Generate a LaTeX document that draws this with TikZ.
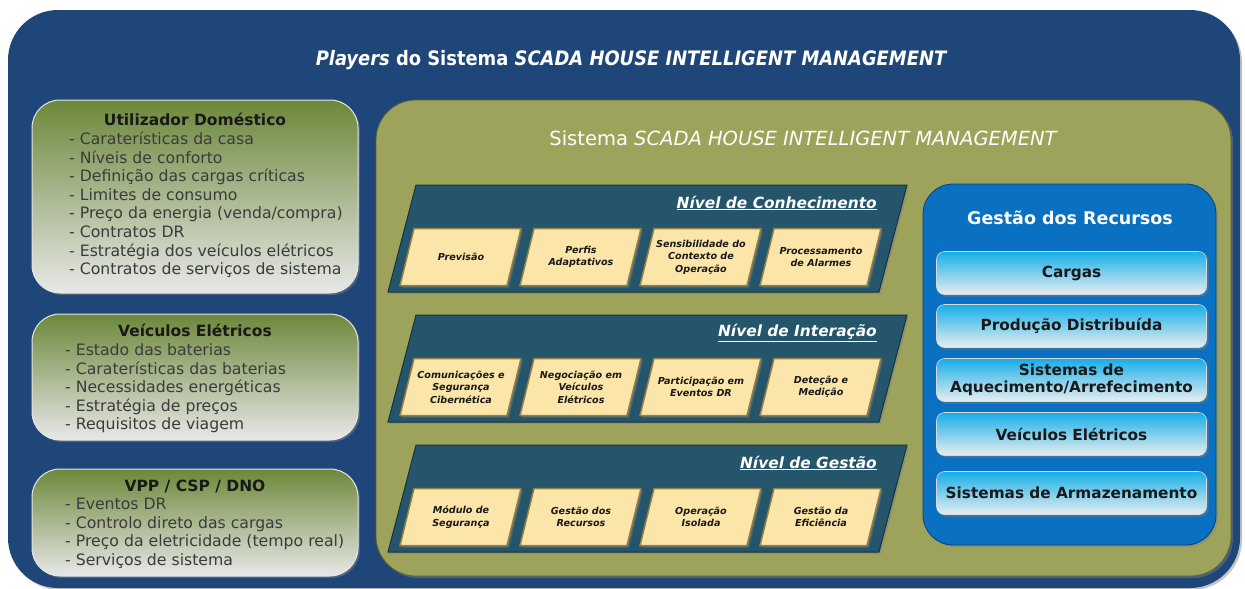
\documentclass[tikz,border=0pt]{standalone}
\usepackage{fontspec}
\setmainfont{DejaVu Sans}
\newfontfamily\condfont{DejaVu Sans Condensed}
\usetikzlibrary{shadows}

\definecolor{outerblue}{RGB}{31,70,120}
\definecolor{olivebg}{RGB}{158,163,91}
\definecolor{levelteal}{RGB}{36,85,106}
\definecolor{boxyellow}{RGB}{251,229,169}
\definecolor{boxedge}{RGB}{150,128,70}
\definecolor{resblue}{RGB}{10,112,194}
\definecolor{rescyan}{RGB}{22,174,232}
\definecolor{resgrey}{RGB}{232,238,240}
\definecolor{playergreen}{RGB}{108,136,58}
\definecolor{playergrey}{RGB}{232,232,232}
\definecolor{darktext}{RGB}{25,25,25}

\tikzset{
  shade/.style={drop shadow={opacity=0.45,shadow xshift=2pt,shadow yshift=-2pt}},
  player/.style={rounded corners=28pt,draw=white!80!gray,line width=1pt,
    top color=playergreen,bottom color=playergrey,shade,inner sep=0pt,outer sep=0pt},
  phead/.style={font=\fontsize{15.5}{18}\selectfont\bfseries,text=darktext,text height=11pt,text depth=0pt,inner sep=0pt},
  pitem/.style={font=\fontsize{15.7}{18}\selectfont,text=darktext!85!white,text height=11pt,text depth=0pt,inner sep=0pt,anchor=west},
  level/.style={fill=levelteal,draw=levelteal!60!black,line width=1pt,shade},
  ltitle/.style={font=\fontsize{15.4}{18}\selectfont\bfseries\itshape,text=white,anchor=east,inner sep=0pt},
  modbox/.style={fill=boxyellow,draw=boxedge,line width=1.5pt,shade},
  modtext/.style={inner sep=0pt,align=center,
    font=\fontsize{9.6}{12.4}\selectfont\bfseries\itshape,text=darktext},
  resitem/.style={rounded corners=8pt,draw=white!70!gray,line width=0.6pt,
    top color=rescyan,bottom color=resgrey,shade,minimum width=270pt,minimum height=43pt,
    inner sep=0pt,align=center,font=\fontsize{15.3}{17.5}\selectfont\bfseries,text=darktext}
}

\begin{document}
\begin{tikzpicture}[x=1pt,y=-1pt]
  \useasboundingbox[fill=white] (0,0) rectangle (1245,589);
  % outer frame and system frame
  \node[rounded corners=50pt,fill=outerblue,shade,minimum width=1232pt,minimum height=578pt,inner sep=0pt] (players) at (624,299) {};
  \node[font=\condfont\fontsize{19.9}{23}\selectfont\bfseries,text=white] (ptitle) at (631,60)
    {\itshape Players\upshape{} do Sistema \itshape SCADA HOUSE INTELLIGENT MANAGEMENT};
  \node[rounded corners=40pt,fill=olivebg,draw=olivebg!60!black,line width=0.8pt,shade,minimum width=855pt,minimum height=476pt,inner sep=0pt] (system) at (803.5,338) {};
  \node[font=\fontsize{19.5}{22}\selectfont,text=white] (stitle) at (803,138)
    {Sistema \itshape SCADA HOUSE INTELLIGENT MANAGEMENT};

  % players
  \node[player,minimum width=326pt,minimum height=193pt] (user) at (195,196.5) {};
  \node[phead] (userh) at (195,120) {Utilizador Doméstico};
  \node[pitem] (u1) at (69,139) {- Caraterísticas da casa};
  \node[pitem] (u2) at (69,157.6) {- Níveis de conforto};
  \node[pitem] (u3) at (69,176.2) {- Definição das cargas críticas};
  \node[pitem] (u4) at (69,194.8) {- Limites de consumo};
  \node[pitem] (u5) at (69,213.4) {- Preço da energia (venda/compra)};
  \node[pitem] (u6) at (69,232) {- Contratos DR};
  \node[pitem] (u7) at (69,250.6) {- Estratégia dos veículos elétricos};
  \node[pitem] (u8) at (69,269.2) {- Contratos de serviços de sistema};

  \node[player,minimum width=326pt,minimum height=126pt] (ev) at (195,377) {};
  \node[phead] (evh) at (195,331) {Veículos Elétricos};
  \node[pitem] (e1) at (65,350) {- Estado das baterias};
  \node[pitem] (e2) at (65,368.6) {- Caraterísticas das baterias};
  \node[pitem] (e3) at (65,387.2) {- Necessidades energéticas};
  \node[pitem] (e4) at (65,405.8) {- Estratégia de preços};
  \node[pitem] (e5) at (65,424.4) {- Requisitos de viagem};

  \node[player,minimum width=326pt,minimum height=107pt] (vpp) at (195,522.5) {};
  \node[phead] (vpph) at (195,486) {VPP / CSP / DNO};
  \node[pitem] (v1) at (65,504) {- Eventos DR};
  \node[pitem] (v2) at (65,522.6) {- Controlo direto das cargas};
  \node[pitem] (v3) at (65,541.2) {- Preço da eletricidade (tempo real)};
  \node[pitem] (v4) at (65,559.8) {- Serviços de sistema};

  % level 1
  \draw[level] (416,185) -- (907,185) -- (879,292) -- (388,292) -- cycle;
  \node[ltitle] (knowt) at (877,203) {\underline{Nível de Conhecimento}};
  \draw[modbox] (414,228.5) -- ++(107,0) -- ++(-14,57) -- ++(-107,0) -- cycle;
  \draw[modbox] (534,228.5) -- ++(107,0) -- ++(-14,57) -- ++(-107,0) -- cycle;
  \draw[modbox] (654,228.5) -- ++(107,0) -- ++(-14,57) -- ++(-107,0) -- cycle;
  \draw[modbox] (774,228.5) -- ++(107,0) -- ++(-14,57) -- ++(-107,0) -- cycle;
  \node[modtext] (k1) at (461,257) {Previsão};
  \node[modtext] (k2) at (581,257) {Perfis\\Adaptativos};
  \node[modtext] (k3) at (701,257) {Sensibilidade do\\Contexto de\\Operação};
  \node[modtext] (k4) at (821,257) {Processamento\\de Alarmes};

  % level 2
  \draw[level] (416,315) -- (907,315) -- (879,422) -- (388,422) -- cycle;
  \node[ltitle] (intert) at (877,333) {\underline{Nível de Interação}};
  \draw[modbox] (414,358.5) -- ++(107,0) -- ++(-14,57) -- ++(-107,0) -- cycle;
  \draw[modbox] (534,358.5) -- ++(107,0) -- ++(-14,57) -- ++(-107,0) -- cycle;
  \draw[modbox] (654,358.5) -- ++(107,0) -- ++(-14,57) -- ++(-107,0) -- cycle;
  \draw[modbox] (774,358.5) -- ++(107,0) -- ++(-14,57) -- ++(-107,0) -- cycle;
  \node[modtext] (i1) at (461,387) {Comunicações e\\Segurança\\Cibernética};
  \node[modtext] (i2) at (581,387) {Negociação em\\Veículos\\Elétricos};
  \node[modtext] (i3) at (701,387) {Participação em\\Eventos DR};
  \node[modtext] (i4) at (821,387) {Deteção e\\Medição};

  % level 3
  \draw[level] (416,445) -- (907,445) -- (879,552) -- (388,552) -- cycle;
  \node[ltitle] (mgmtt) at (877,463) {\underline{Nível de Gestão}};
  \draw[modbox] (414,488.5) -- ++(107,0) -- ++(-14,57) -- ++(-107,0) -- cycle;
  \draw[modbox] (534,488.5) -- ++(107,0) -- ++(-14,57) -- ++(-107,0) -- cycle;
  \draw[modbox] (654,488.5) -- ++(107,0) -- ++(-14,57) -- ++(-107,0) -- cycle;
  \draw[modbox] (774,488.5) -- ++(107,0) -- ++(-14,57) -- ++(-107,0) -- cycle;
  \node[modtext] (g1) at (461,517) {Módulo de\\Segurança};
  \node[modtext] (g2) at (581,517) {Gestão dos\\Recursos};
  \node[modtext] (g3) at (701,517) {Operação\\Isolada};
  \node[modtext] (g4) at (821,517) {Gestão da\\Eficiência};

  % resources
  \node[rounded corners=30pt,fill=resblue,draw=resblue!60!black,line width=0.8pt,shade,minimum width=293pt,minimum height=361pt,inner sep=0pt] (res) at (1069.5,364.5) {};
  \node[font=\fontsize{17.5}{20}\selectfont\bfseries,text=white] (rest) at (1070,218) {Gestão dos Recursos};
  \node[resitem] (r1) at (1071.5,273) {Cargas};
  \node[resitem] (r2) at (1071.5,326) {Produção Distribuída};
  \node[resitem] (r3) at (1071.5,380) {Sistemas de\\Aquecimento/Arrefecimento};
  \node[resitem] (r4) at (1071.5,434) {Veículos Elétricos};
  \node[resitem] (r5) at (1071.5,493) {Sistemas de Armazenamento};
\end{tikzpicture}
\end{document}
